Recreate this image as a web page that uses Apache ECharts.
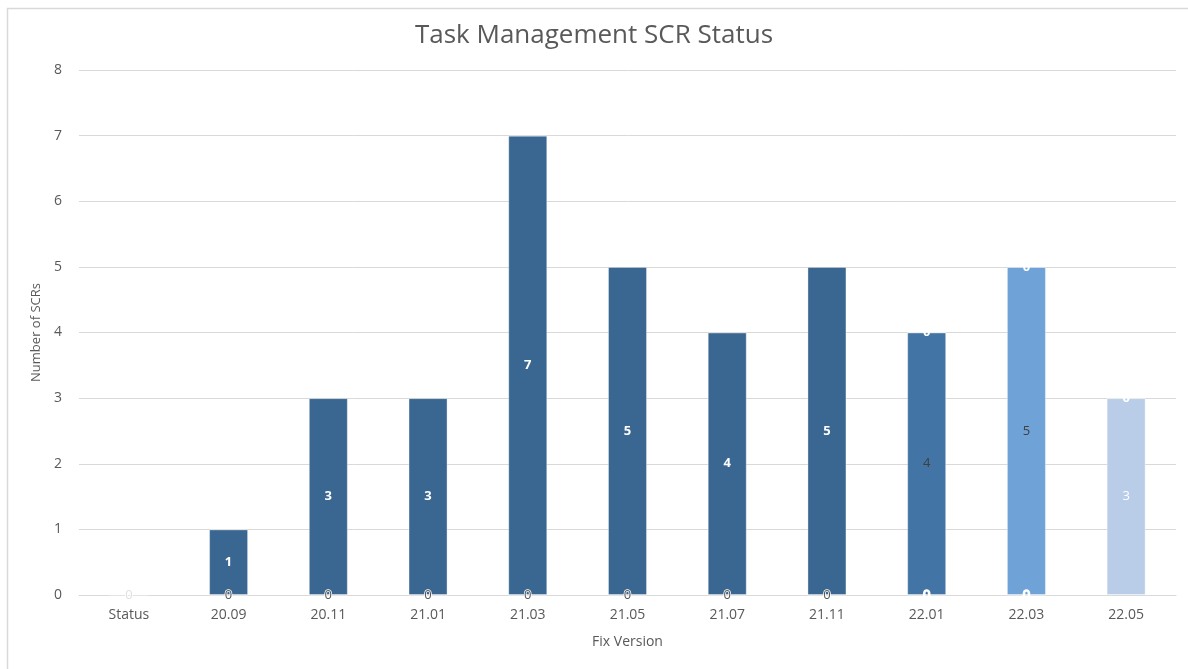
<!DOCTYPE html>
<html>
<head>
<meta charset="utf-8">
<title>Task Management SCR Status</title>
<script src="https://cdn.jsdelivr.net/npm/echarts@6/dist/echarts.min.js"></script>
<style>
  html, body { margin: 0; padding: 0; background: #fff; }
  #chart { width: 1188px; height: 669px; }
</style>
</head>
<body>
<div id="chart"></div>
<script>
// categories on the x axis
const versions = ["Status", "20.09", "20.11", "21.01", "21.03", "21.05", "21.07", "21.11", "22.01", "22.03", "22.05"];
const yTicks = [0, 1, 2, 3, 4, 5, 6, 7, 8];

// stacked series, null = nothing drawn
const zeroBase = [0, 0, 0, 0, 0, 0, 0, 0, 0, 0, null];
const closed = [null, 1, 3, 3, 7, 5, 4, 5, null, null, null];
const inProgress = [null, null, null, null, null, null, null, null, 4, null, null];
const testing = [null, null, null, null, null, null, null, null, null, 5, null];
const planned = [null, null, null, null, null, null, null, null, null, null, 3];
const zeroTop = [null, null, null, null, null, null, null, null, 0, 0, 0];

const chart = echarts.init(document.getElementById("chart"));
const font = "'Open Sans', 'DejaVu Sans', sans-serif";

// bottom zero label colour differs for the first and last columns
const baseData = zeroBase.map((v, i) => {
  if (v === null) return null;
  let color = "#595959";
  if (i === 0) color = "#e0e0e0";
  if (i >= 8) color = "#ffffff";
  return { value: v, label: { color: color } };
});

function barSeries(name, data, color, labelColor, bold) {
  return {
    name: name,
    type: "bar",
    stack: "total",
    barWidth: 39,
    data: data,
    itemStyle: { color: color, borderColor: "rgba(255,255,255,0.35)", borderWidth: 1 },
    label: {
      show: true,
      position: "inside",
      color: labelColor,
      fontFamily: font,
      fontSize: 13,
      fontWeight: bold ? "bold" : "normal",
    },
  };
}

const option = {
  animation: false,
  backgroundColor: "#ffffff",
  graphic: [
    {
      type: "rect",
      left: 5,
      top: 6,
      shape: { width: 1200, height: 700 },
      style: { fill: "none", stroke: "#d9d9d9", lineWidth: 1.5 },
    },
  ],
  title: {
    text: "Task Management SCR Status",
    left: "center",
    top: 18,
    textStyle: { color: "#595959", fontSize: 26, fontWeight: "normal", fontFamily: font },
  },
  grid: { left: 79, right: 12, top: 70, bottom: 74 },
  xAxis: {
    type: "category",
    data: versions,
    name: "Fix Version",
    nameLocation: "middle",
    nameGap: 40,
    nameTextStyle: { color: "#595959", fontSize: 14, fontFamily: font },
    axisLine: { lineStyle: { color: "#d9d9d9" } },
    axisTick: { show: false },
    axisLabel: { color: "#595959", fontSize: 14, fontFamily: font, margin: 13 },
  },
  yAxis: {
    type: "value",
    min: 0,
    max: yTicks[yTicks.length - 1],
    interval: 1,
    name: "Number of SCRs",
    nameLocation: "middle",
    nameGap: 34,
    nameTextStyle: { color: "#595959", fontSize: 13, fontFamily: font },
    axisLine: { show: false },
    axisTick: { show: false },
    axisLabel: { color: "#595959", fontSize: 14, fontFamily: font, margin: 17 },
    splitLine: { lineStyle: { color: "#d9d9d9" } },
  },
  series: [
    Object.assign(barSeries("Rejected", baseData, "#3a6791", "#595959", false), {
      label: {
        show: true,
        position: "inside",
        fontFamily: font,
        fontSize: 13,
        textBorderColor: "#ffffff",
        textBorderWidth: 1.5,
      },
    }),
    barSeries("Closed", closed, "#3a6791", "#ffffff", true),
    barSeries("In Progress", inProgress, "#4275a5", "#404040", false),
    barSeries("Testing", testing, "#6fa3d8", "#404040", false),
    barSeries("Planned", planned, "#b9cde9", "#ffffff", false),
    barSeries("New", zeroTop, "#b9cde9", "#ffffff", true),
  ],
};

chart.setOption(option);
</script>
</body>
</html>
